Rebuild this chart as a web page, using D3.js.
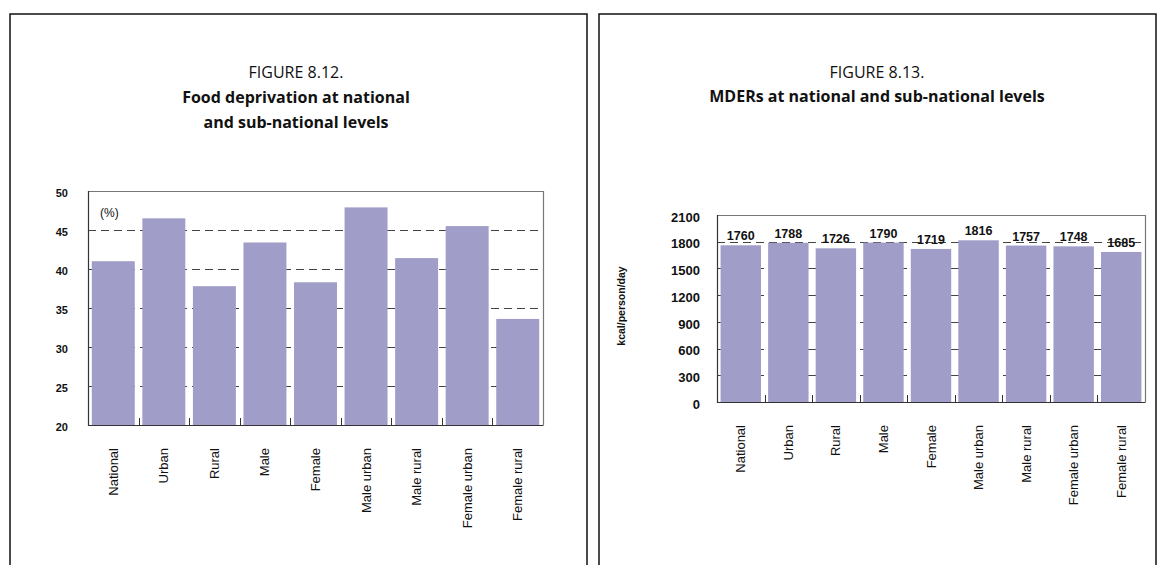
<!DOCTYPE html>
<html>
<head>
<meta charset="utf-8">
<script src="https://cdn.jsdelivr.net/npm/d3@7"></script>
<style>
  body { margin: 0; background: #fff; }
  svg { display: block; }
</style>
</head>
<body>
<svg id="fig" width="1165" height="565"></svg>
<script>
// Categories shared by both figures
const categories = ["National", "Urban", "Rural", "Male", "Female", "Male urban", "Male rural", "Female urban", "Female rural"];

// Figure 8.12 – food deprivation (%)
const deprivationPct = [41.0, 46.5, 37.8, 43.4, 38.3, 47.9, 41.4, 45.5, 33.6];
const deprivationTicks = [20, 25, 30, 35, 40, 45, 50];

// Figure 8.13 – minimum dietary energy requirements (kcal/person/day)
const mderKcal = [1760, 1788, 1726, 1790, 1719, 1816, 1757, 1748, 1685];
const mderTicks = [0, 300, 600, 900, 1200, 1500, 1800, 2100];

const BAR = "#a09ec8";
const AXIS = "#333";
const FRAME = "#777";
const TITLE_FONT = "'Open Sans', 'Noto Sans', sans-serif";
const LABEL_FONT = "'Liberation Sans', Arial, sans-serif";

const svg = d3.select("#fig");

// Outer frame of a figure panel: open at the bottom
function panelFrame(x0, x1, top) {
  svg.append("path")
    .attr("d", `M${x0},565 V${top} H${x1} V565`)
    .attr("fill", "none")
    .attr("stroke", "#111")
    .attr("stroke-width", 1.5);
}

function panelTitle(cx, lines) {
  lines.forEach(l => {
    svg.append("text")
      .attr("x", cx).attr("y", l.y)
      .attr("text-anchor", "middle")
      .attr("font-family", TITLE_FONT)
      .attr("font-size", 16)
      .attr("font-weight", l.bold ? 700 : 400)
      .attr("fill", "#111")
      .text(l.text);
  });
}

function barChart(opt) {
  const g = svg.append("g");
  const x = d3.scaleBand()
    .domain(categories)
    .range([opt.left, opt.right])
    .paddingInner(0.15)
    .paddingOuter(0.075);
  const y = d3.scaleLinear()
    .domain([opt.ticks[0], opt.ticks[opt.ticks.length - 1]])
    .range([opt.bottom, opt.top]);

  // dashed gridlines, drawn behind the bars
  g.append("g").selectAll("line")
    .data(opt.ticks.slice(1, -1))
    .join("line")
    .attr("x1", opt.left).attr("x2", opt.right)
    .attr("y1", d => Math.round(y(d)) + 0.5)
    .attr("y2", d => Math.round(y(d)) + 0.5)
    .attr("stroke", "#444")
    .attr("stroke-width", 1)
    .attr("stroke-dasharray", "8,5");

  // bars
  g.append("g").selectAll("rect")
    .data(opt.values)
    .join("rect")
    .attr("x", (d, i) => x(categories[i]))
    .attr("width", x.bandwidth())
    .attr("y", d => y(d))
    .attr("height", d => y(opt.ticks[0]) - y(d))
    .attr("fill", BAR);

  // plot frame: light top/right, dark axes
  g.append("path")
    .attr("d", `M${opt.left},${opt.top + 0.5} H${opt.right + 0.5} V${opt.bottom}`)
    .attr("fill", "none").attr("stroke", FRAME).attr("stroke-width", 1.2);
  g.append("path")
    .attr("d", `M${opt.left + 0.5},${opt.top} V${opt.bottom + 0.5} H${opt.right + 0.5}`)
    .attr("fill", "none").attr("stroke", AXIS).attr("stroke-width", 1.2);

  // short category divider ticks rising from the baseline
  const step = x.step();
  g.append("g").selectAll("line")
    .data(categories.slice(1))
    .join("line")
    .attr("x1", d => Math.round(x(d) - step * 0.075) + 0.5)
    .attr("x2", d => Math.round(x(d) - step * 0.075) + 0.5)
    .attr("y1", opt.bottom).attr("y2", opt.bottom - 7)
    .attr("stroke", AXIS).attr("stroke-width", 1);

  // y tick labels
  g.append("g").selectAll("text")
    .data(opt.ticks)
    .join("text")
    .attr("x", opt.left - opt.labelGap)
    .attr("y", d => y(d) + opt.tickSize * 0.36 + 2)
    .attr("text-anchor", "end")
    .attr("font-family", LABEL_FONT)
    .attr("font-weight", 700)
    .attr("font-size", opt.tickSize)
    .attr("fill", "#111")
    .text(d => d);

  // rotated category labels
  g.append("g").selectAll("text")
    .data(categories)
    .join("text")
    .attr("transform", d => `translate(${x(d) + x.bandwidth() / 2 + 4.5},${opt.bottom + 23}) rotate(-90)`)
    .attr("text-anchor", "end")
    .attr("font-family", LABEL_FONT)
    .attr("font-size", 13)
    .attr("fill", "#111")
    .text(d => d);

  return { x, y, g };
}

// ---- Figure 8.12 ----
panelFrame(10, 587, 14);
panelTitle(296, [
  { text: "FIGURE 8.12.", y: 78, bold: false },
  { text: "Food deprivation at national", y: 103, bold: true },
  { text: "and sub-national levels", y: 128, bold: true }
]);
const left = barChart({
  values: deprivationPct, ticks: deprivationTicks,
  left: 88, right: 543, top: 191, bottom: 425,
  labelGap: 20, tickSize: 11
});
left.g.append("text")
  .attr("x", 100).attr("y", 217)
  .attr("font-family", LABEL_FONT)
  .attr("font-size", 12)
  .attr("fill", "#111")
  .text("(%)");

// ---- Figure 8.13 ----
panelFrame(599, 1156, 14);
panelTitle(877, [
  { text: "FIGURE 8.13.", y: 78, bold: false },
  { text: "MDERs at national and sub-national levels", y: 102, bold: true }
]);
const right = barChart({
  values: mderKcal, ticks: mderTicks,
  left: 717, right: 1145, top: 215, bottom: 402,
  labelGap: 17, tickSize: 13
});
// value labels above each bar
right.g.append("g").selectAll("text")
  .data(mderKcal)
  .join("text")
  .attr("x", (d, i) => right.x(categories[i]) + right.x.bandwidth() / 2)
  .attr("y", d => right.y(d) - 5)
  .attr("text-anchor", "middle")
  .attr("font-family", LABEL_FONT)
  .attr("font-weight", 700)
  .attr("font-size", 12.5)
  .attr("fill", "#111")
  .text(d => d);
// y axis title
right.g.append("text")
  .attr("transform", "translate(625,306) rotate(-90)")
  .attr("text-anchor", "middle")
  .attr("font-family", LABEL_FONT)
  .attr("font-weight", 700)
  .attr("font-size", 10.5)
  .attr("fill", "#111")
  .text("kcal/person/day");
</script>
</body>
</html>
